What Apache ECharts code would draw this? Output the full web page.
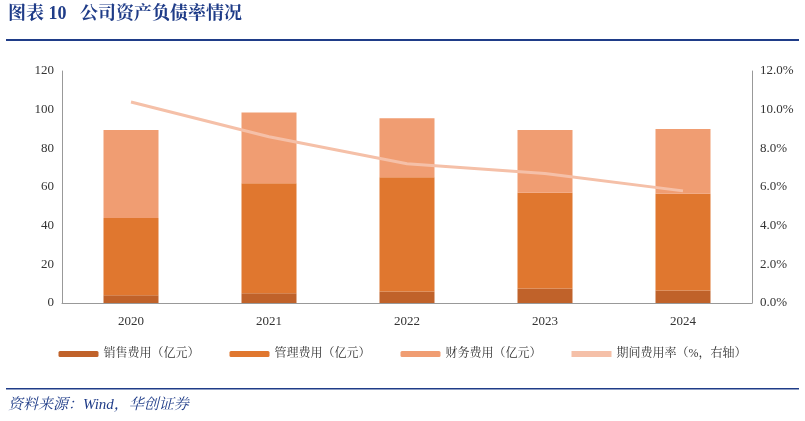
<!DOCTYPE html><html><head><meta charset="utf-8"><script src="https://cdn.jsdelivr.net/npm/echarts@6/dist/echarts.min.js"></script>
<style>body{margin:0;background:#fff}#c{width:805px;height:421px}</style></head><body><div id="c"></div><script>
const categories=['2020','2021','2022','2023','2024'];
const sales=[4,5,6,7.5,6.5];
const mgmt=[40,57,59,49.5,50];
const finance=[45.5,36.5,30.5,32.5,33.5];
const rate=[10.4,8.6,7.2,6.7,5.8];
const c=echarts.init(document.getElementById('c'));
const serif='"Liberation Serif","Noto Serif CJK SC","Noto Sans CJK SC",serif';
c.setOption({
animation:false,
graphic:[
{type:'text',left:8,top:5,style:{text:'图表 10   公司资产负债率情况',font:'bold 18px '+serif,fill:'#1f3c88'}},
{type:'rect',shape:{x:6,y:39,width:793,height:2},style:{fill:'#1f3c88'}},
{type:'rect',shape:{x:6,y:388,width:793,height:1.5},style:{fill:'#1f3c88'}},
{type:'text',left:8,top:398,style:{text:'资料来源：Wind，华创证券',font:'italic 15px '+serif,fill:'#1f3c88'}}
],
grid:{left:62,right:53,top:71,bottom:118},
legend:{bottom:56,left:'center',itemGap:30,itemWidth:40,itemHeight:6,textStyle:{fontFamily:serif,fontSize:12,color:'#333'},
data:['销售费用（亿元）','管理费用（亿元）','财务费用（亿元）',{name:'期间费用率（%，右轴）',icon:'rect',itemStyle:{color:'#f5c0a8'}}]},
xAxis:{type:'category',data:categories,axisTick:{show:false},axisLine:{lineStyle:{color:'#999'}},axisLabel:{fontFamily:serif,fontSize:13,color:'#333',margin:12}},
yAxis:[{type:'value',min:0,max:120,interval:20,splitLine:{show:false},axisLine:{show:true,lineStyle:{color:'#999'}},axisLabel:{fontFamily:serif,fontSize:13,color:'#333'}},
{type:'value',min:0,max:12,interval:2,splitLine:{show:false},axisLine:{show:true,lineStyle:{color:'#999'}},axisLabel:{fontFamily:serif,fontSize:13,color:'#333',formatter:v=>v.toFixed(1)+'%'}}],
series:[
{name:'销售费用（亿元）',type:'bar',stack:'a',data:sales,barWidth:55,itemStyle:{color:'#c0622a'}},
{name:'管理费用（亿元）',type:'bar',stack:'a',data:mgmt,itemStyle:{color:'#e0772f'}},
{name:'财务费用（亿元）',type:'bar',stack:'a',data:finance,itemStyle:{color:'#f09d72'}},
{name:'期间费用率（%，右轴）',type:'line',yAxisIndex:1,data:rate,symbol:'none',lineStyle:{color:'#f5c0a8',width:3},itemStyle:{color:'#f5c0a8'}}
]});
</script></body></html>
